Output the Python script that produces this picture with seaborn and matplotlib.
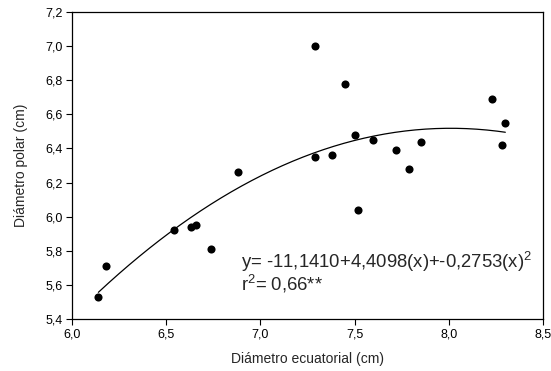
import numpy as np
import pandas as pd
import matplotlib
matplotlib.use("Agg")
import matplotlib.pyplot as plt
import seaborn as sns

# Data
diam_ecuatorial = [6.14, 6.18, 6.54, 6.63, 6.66, 6.74, 6.88, 7.29, 7.29, 7.38,
                   7.45, 7.50, 7.60, 7.52, 7.72, 7.79, 7.85, 8.23, 8.28, 8.30]
diam_polar = [5.53, 5.71, 5.92, 5.94, 5.95, 5.81, 6.26, 7.00, 6.35, 6.36,
              6.78, 6.48, 6.45, 6.04, 6.39, 6.28, 6.44, 6.69, 6.42, 6.55]
coef = [-11.1410, 4.4098, -0.2753]
xticks = [6.0, 6.5, 7.0, 7.5, 8.0, 8.5]
xticklabels = ["6,0", "6,5", "7,0", "7,5", "8,0", "8,5"]
yticks = [5.4, 5.6, 5.8, 6.0, 6.2, 6.4, 6.6, 6.8, 7.0, 7.2]
yticklabels = ["5,4", "5,6", "5,8", "6,0", "6,2", "6,4", "6,6", "6,8", "7,0", "7,2"]

sns.set_style("white")
plt.rcParams['font.family'] = ['Liberation Sans', 'DejaVu Sans']
plt.rcParams['mathtext.fontset'] = 'custom'
plt.rcParams['mathtext.rm'] = 'Liberation Sans'

df = pd.DataFrame({"x": diam_ecuatorial, "y": diam_polar})
xf = np.linspace(min(diam_ecuatorial), max(diam_ecuatorial), 200)
fit = pd.DataFrame({"x": xf, "y": coef[0] + coef[1] * xf + coef[2] * xf ** 2})

fig = plt.figure(figsize=(5.51, 3.71), dpi=100)
ax = fig.add_axes([72 / 551, 1 - 319 / 371, (543 - 72) / 551, (319 - 12) / 371])

sns.lineplot(data=fit, x="x", y="y", ax=ax, color="black", linewidth=0.9)
sns.scatterplot(data=df, x="x", y="y", ax=ax, color="black", s=34,
                edgecolor="black", linewidth=0, zorder=3)

ax.set_xlim(6.0, 8.5)
ax.set_ylim(5.4, 7.2)
ax.set_xticks(xticks)
ax.set_xticklabels(xticklabels)
ax.set_yticks(yticks)
ax.set_yticklabels(yticklabels)
ax.tick_params(axis="both", which="both", direction="out", length=4, width=0.8,
               labelsize=9, colors="black", bottom=True, left=True, top=False, right=False, pad=3)
for sp in ax.spines.values():
    sp.set_color("black")
    sp.set_linewidth(0.9)
    sp.set_visible(True)

ax.set_xlabel("Diámetro ecuatorial (cm)", fontsize=10, labelpad=8)
ax.set_ylabel("Diámetro polar (cm)", fontsize=10, labelpad=12)

ax.text(6.897, 5.697, "y= -11,1410+4,4098(x)+-0,2753(x)$^\\mathregular{2}$", fontsize=13.3, ha="left", va="baseline")
ax.text(6.897, 5.566, "r$^\\mathregular{2}$= 0,66**", fontsize=13.3, ha="left", va="baseline")

fig.savefig("out.png", dpi=100)
